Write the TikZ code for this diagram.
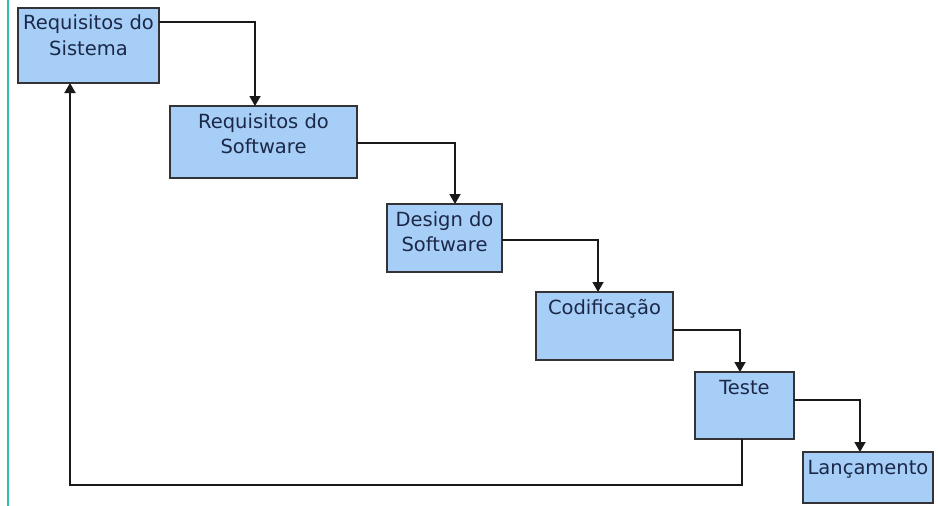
\documentclass[tikz,border=0pt]{standalone}
\usepackage{fontspec}
\setmainfont{DejaVu Sans}
\usetikzlibrary{arrows.meta}
\definecolor{azul}{RGB}{166,206,247}
\definecolor{borda}{RGB}{50,50,55}
\definecolor{texto}{RGB}{28,40,72}
\definecolor{margem}{RGB}{40,190,175}
\newcommand{\caixa}[3]{\parbox[t][#2][t]{#1}{\centering\rule{0pt}{22pt}#3}}
\tikzset{
  etapa/.style={draw=borda, fill=azul, line width=1.6pt, inner sep=0pt, outer sep=0pt,
    anchor=north west, text=texto, font=\fontsize{19.5}{25}\selectfont},
  seta/.style={draw=black!90, line width=1.8pt, -{Triangle[width=11pt,length=10pt]}}
}
\begin{document}
\begin{tikzpicture}[x=1pt,y=-1pt]
      \useasboundingbox (0,0) rectangle (938,506);
      \draw[margem, line width=1.5pt] (8,0) -- (8,506);
      \draw
        (18,8) node[etapa] (sis){\caixa{141pt}{75pt}{Requisitos do\\Sistema}}
        (170,106) node[etapa] (sw){\caixa{187pt}{72pt}{Requisitos do\\Software}}
        (387,204) node[etapa] (design){\caixa{115pt}{68pt}{Design do\\Software}}
        (536,292) node[etapa] (cod){\caixa{137pt}{68pt}{Codificação}}
        (695,372) node[etapa] (teste){\caixa{99pt}{67pt}{Teste}}
        (803,452) node[etapa] (lanc){\caixa{130pt}{51pt}{Lançamento}};
      \coordinate (volta) at (70,485);
      \begin{scope}[seta]
        \draw ([yshift=-14pt]sis.north east) -| ([xshift=-8.5pt]sw.north);
        \draw ([yshift=-37pt]sw.north east) -| ([xshift=10.5pt]design.north);
        \draw ([yshift=-36pt]design.north east) -| ([xshift=-6.5pt]cod.north);
        \draw ([yshift=-38pt]cod.north east) -| ([xshift=-4.5pt]teste.north);
        \draw ([yshift=-28pt]teste.north east) -| ([xshift=-8pt]lanc.north);
        \draw ([xshift=-2.5pt]teste.south) |- (volta) -- (volta |- sis.south);
      \end{scope}
    \end{tikzpicture}
\end{document}
